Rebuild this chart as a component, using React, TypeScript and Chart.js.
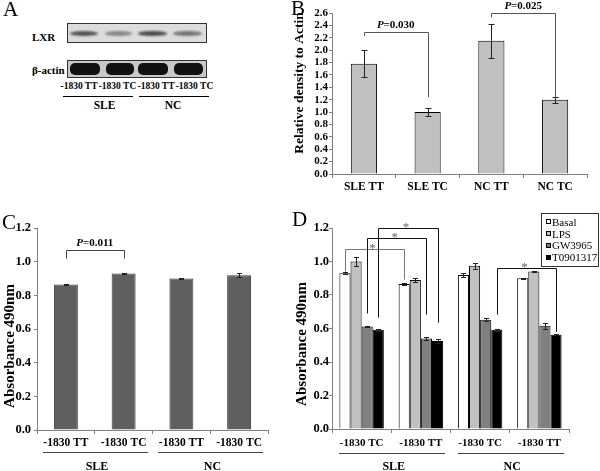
import React, { useEffect, useRef } from 'react';
import { Chart, registerables } from 'chart.js';

Chart.register(...registerables);

const SERIF = "'Liberation Serif', 'Times New Roman', Times, serif";
const AXIS = '#808080';

// ---------------- Panel A (western blot) ----------------
const aLanes = ['-1830 TT', '-1830 TC', '-1830 TT', '-1830 TC'];
const aGroups = ['SLE', 'NC'];
const aLxrDarkness = [0.72, 0.45, 0.78, 0.55];

// ---------------- Panel B ----------------
const bLabels = ['SLE TT', 'SLE TC', 'NC TT', 'NC TC'];
const bValues = [1.78, 1.0, 2.15, 1.2];
const bErrors = [0.22, 0.07, 0.28, 0.05];
const bTicks = [0, 0.2, 0.4, 0.6, 0.8, 1.0, 1.2, 1.4, 1.6, 1.8, 2.0, 2.2, 2.4, 2.6];
const bPValues = ['0.030', '0.025'];

// ---------------- Panel C ----------------
const cLabels = ['-1830 TT', '-1830 TC', '-1830 TT', '-1830 TC'];
const cGroups = ['SLE', 'NC'];
const cValues = [0.865, 0.93, 0.9, 0.92];
const cErrors = [0.005, 0.005, 0.003, 0.012];
const cPValues = ['0.011'];

// ---------------- Panel D ----------------
const dLabels = ['-1830 TC', '-1830 TT', '-1830 TC', '-1830 TT'];
const dGroups = ['SLE', 'NC'];
const dSeries = ['Basal', 'LPS', 'GW3965', 'T0901317'];
const dBasal = [0.93, 0.865, 0.92, 0.9];
const dBasalErr = [0.005, 0.007, 0.01, 0.003];
const dLPS = [1.0, 0.89, 0.975, 0.94];
const dLPSErr = [0.025, 0.012, 0.018, 0.004];
const dGW = [0.612, 0.54, 0.652, 0.617];
const dGWErr = [0.004, 0.01, 0.01, 0.018];
const dT09 = [0.592, 0.525, 0.592, 0.562];
const dT09Err = [0.005, 0.01, 0.006, 0.003];
const dColors = ['#ffffff', '#c0c0c0', '#808080', '#000000'];

const absTicks = [0, 0.2, 0.4, 0.6, 0.8, 1.0, 1.2];

type Bracket = {
  from: [number, number];
  to: [number, number];
  level: number;
  fromEnd: number;
  toEnd: number;
  p?: string;
  star?: boolean;
  color: string;
};

const bBrackets: Bracket[] = [
  { from: [0, 0], to: [0, 1], level: 2.3, fromEnd: 2.23, toEnd: 1.24, p: bPValues[0], color: '#555' },
  { from: [0, 2], to: [0, 3], level: 2.6, fromEnd: 2.53, toEnd: 1.24, p: bPValues[1], color: '#555' },
];
const cBrackets: Bracket[] = [
  { from: [0, 0], to: [0, 1], level: 1.071, fromEnd: 1.018, toEnd: 1.018, p: cPValues[0], color: '#444' },
];
const dBrackets: Bracket[] = [
  { from: [0, 0], to: [0, 1], level: 1.072, fromEnd: 0.94, toEnd: 0.892, star: true, color: '#777' },
  { from: [2, 0], to: [2, 1], level: 1.138, fromEnd: 0.69, toEnd: 0.683, star: true, color: '#111' },
  { from: [3, 0], to: [3, 1], level: 1.198, fromEnd: 0.665, toEnd: 0.635, star: true, color: '#111' },
  { from: [3, 2], to: [3, 3], level: 0.964, fromEnd: 0.683, toEnd: 0.58, star: true, color: '#111' },
];

type AnnotCfg = {
  id: string;
  letter: string;
  letterX: number;
  letterY: number;
  title: string;
  titleX: number;
  titleY: number;
  titleSize: number;
  errors: number[][];
  cap: number;
  brackets: Bracket[];
  pSize?: number;
  groups?: { names: string[]; lineY: number; labelY: number; inL: number; inR: number; size: number };
  legend?: { names: string[]; colors: string[]; x: number; y: number; w: number; h: number };
};

const crisp = (v: number) => Math.round(v) + 0.5;

function annot(cfg: AnnotCfg) {
  return {
    id: cfg.id,
    afterDraw(chart: any) {
      const ctx: CanvasRenderingContext2D = chart.ctx;
      const xs = chart.scales.x;
      const ys = chart.scales.y;
      ctx.save();
      ctx.fillStyle = '#000';
      ctx.textAlign = 'left';
      ctx.textBaseline = 'alphabetic';
      ctx.font = `21px ${SERIF}`;
      ctx.fillText(cfg.letter, cfg.letterX, cfg.letterY);

      // y title
      ctx.save();
      ctx.translate(cfg.titleX, cfg.titleY);
      ctx.rotate(-Math.PI / 2);
      ctx.font = `bold ${cfg.titleSize}px ${SERIF}`;
      ctx.textAlign = 'center';
      ctx.textBaseline = 'middle';
      ctx.fillText(cfg.title, 0, 0);
      ctx.restore();

      // error bars
      ctx.strokeStyle = '#222';
      ctx.lineWidth = 1;
      chart.data.datasets.forEach((ds: any, i: number) => {
        const meta = chart.getDatasetMeta(i);
        meta.data.forEach((el: any, j: number) => {
          const v = ds.data[j];
          const e = cfg.errors[i][j];
          const x = crisp(el.x);
          const t = Math.round(ys.getPixelForValue(v + e)) + 0.5;
          const b = Math.round(ys.getPixelForValue(v - e)) + 0.5;
          ctx.beginPath();
          ctx.moveTo(x, t);
          ctx.lineTo(x, b);
          ctx.moveTo(x - cfg.cap / 2, t);
          ctx.lineTo(x + cfg.cap / 2, t);
          ctx.moveTo(x - cfg.cap / 2, b);
          ctx.lineTo(x + cfg.cap / 2, b);
          ctx.stroke();
        });
      });

      // brackets
      cfg.brackets.forEach((br) => {
        const x1 = chart.getDatasetMeta(br.from[0]).data[br.from[1]].x;
        const x2 = chart.getDatasetMeta(br.to[0]).data[br.to[1]].x;
        const yl = crisp(ys.getPixelForValue(br.level));
        const y1 = ys.getPixelForValue(br.fromEnd);
        const y2 = ys.getPixelForValue(br.toEnd);
        ctx.strokeStyle = br.color;
        ctx.lineWidth = 1;
        ctx.beginPath();
        ctx.moveTo(crisp(x1), y1);
        ctx.lineTo(crisp(x1), yl);
        ctx.lineTo(crisp(x2), yl);
        ctx.lineTo(crisp(x2), y2);
        ctx.stroke();
        const mid = (x1 + x2) / 2;
        if (br.p) {
          const s = cfg.pSize || 11;
          ctx.fillStyle = '#000';
          ctx.textAlign = 'left';
          ctx.textBaseline = 'alphabetic';
          ctx.font = `italic bold ${s}px ${SERIF}`;
          const wP = ctx.measureText('P').width;
          ctx.font = `bold ${s}px ${SERIF}`;
          const rest = '=' + br.p;
          const wR = ctx.measureText(rest).width;
          const x0 = mid - (wP + wR) / 2;
          const base = yl - 4.5;
          ctx.font = `italic bold ${s}px ${SERIF}`;
          ctx.fillText('P', x0, base);
          ctx.font = `bold ${s}px ${SERIF}`;
          ctx.fillText(rest, x0 + wP, base);
        }
        if (br.star) {
          ctx.fillStyle = '#666';
          ctx.textAlign = 'center';
          ctx.textBaseline = 'alphabetic';
          ctx.font = `13px ${SERIF}`;
          ctx.fillText('*', mid - 2, yl + 2);
        }
      });

      // group labels below x axis
      if (cfg.groups) {
        const g = cfg.groups;
        const n = chart.data.labels.length;
        const cw = (xs.right - xs.left) / n;
        g.names.forEach((name, gi) => {
          const l = xs.left + cw * 2 * gi + g.inL;
          const r = xs.left + cw * (2 * gi + 2) - g.inR;
          ctx.fillStyle = '#444';
          ctx.fillRect(Math.round(l), g.lineY, Math.round(r - l), 1);
          ctx.fillStyle = '#000';
          ctx.textAlign = 'center';
          ctx.textBaseline = 'alphabetic';
          ctx.font = `bold ${g.size}px ${SERIF}`;
          ctx.fillText(name, (l + r) / 2 + 2, g.labelY);
        });
      }

      // legend
      if (cfg.legend) {
        const L = cfg.legend;
        ctx.strokeStyle = '#333';
        ctx.lineWidth = 1;
        ctx.strokeRect(L.x + 0.5, L.y + 0.5, L.w, L.h);
        const step = (L.h - 6) / L.names.length;
        L.names.forEach((name, i) => {
          const cy = L.y + 3 + step * (i + 0.5) + 0.5;
          ctx.fillStyle = L.colors[i];
          ctx.fillRect(L.x + 5, Math.round(cy - 3), 5, 5);
          ctx.strokeStyle = '#000';
          ctx.strokeRect(L.x + 5.5, Math.round(cy - 3) + 0.5, 4, 4);
          ctx.fillStyle = '#000';
          ctx.textAlign = 'left';
          ctx.textBaseline = 'middle';
          ctx.font = `11px ${SERIF}`;
          ctx.fillText(name, L.x + 11, cy + 0.5);
        });
      }
      ctx.restore();
    },
  };
}

function yScale(ticks: number[], max: number, width: number, size: number, tickLen: number, pad: number) {
  return {
    type: 'linear',
    min: 0,
    max,
    afterBuildTicks: (s: any) => {
      s.ticks = ticks.map((v) => ({ value: v }));
    },
    afterFit: (s: any) => {
      s.width = width;
    },
    ticks: {
      autoSkip: false,
      padding: pad,
      color: '#000',
      font: { family: SERIF, size, weight: 'bold' },
      callback: (v: any) => Number(v).toFixed(1),
    },
    grid: { display: true, drawOnChartArea: false, drawTicks: true, tickLength: tickLen, color: AXIS },
    border: { display: true, color: AXIS },
  };
}

function xScale(height: number, size: number, pad: number) {
  return {
    type: 'category',
    afterFit: (s: any) => {
      s.height = height;
    },
    ticks: {
      autoSkip: false,
      maxRotation: 0,
      minRotation: 0,
      padding: pad,
      color: '#000',
      font: { family: SERIF, size, weight: 'bold' },
    },
    grid: { display: true, drawOnChartArea: false, drawTicks: true, tickLength: 4, color: AXIS, offset: true },
    border: { display: true, color: AXIS },
  };
}

const baseOptions = (padding: any) => ({
  responsive: false,
  animation: false,
  events: [],
  layout: { padding },
  plugins: { legend: { display: false }, tooltip: { enabled: false }, title: { display: false } },
});

function configB(): any {
  return {
    type: 'bar',
    data: {
      labels: bLabels,
      datasets: [
        {
          data: bValues,
          backgroundColor: '#c0c0c0',
          borderColor: '#000',
          borderWidth: 1,
          categoryPercentage: 1,
          barPercentage: 0.41,
        },
      ],
    },
    options: {
      ...baseOptions({ left: 0, right: 13, top: 13, bottom: 0 }),
      scales: { x: xScale(26, 11.5, 2), y: yScale(bTicks, 2.6, 42, 11, 3, 1) },
    },
    plugins: [
      annot({
        id: 'annotB',
        letter: 'B',
        letterX: 1,
        letterY: 15,
        title: 'Relative density to Actin',
        titleX: 10,
        titleY: 83,
        titleSize: 13.5,
        errors: [bErrors],
        cap: 6,
        brackets: bBrackets,
        pSize: 11,
      }),
    ],
  };
}

function configC(): any {
  return {
    type: 'bar',
    data: {
      labels: cLabels,
      datasets: [
        {
          data: cValues,
          backgroundColor: '#5f5f5f',
          borderColor: '#3a3a3a',
          borderWidth: 1,
          categoryPercentage: 1,
          barPercentage: 0.415,
        },
      ],
    },
    options: {
      ...baseOptions({ left: 0, right: 22, top: 28, bottom: 0 }),
      scales: { x: xScale(41, 11.5, 2), y: yScale(absTicks, 1.2, 37, 12.5, 3, 3) },
    },
    plugins: [
      annot({
        id: 'annotC',
        letter: 'C',
        letterX: 2,
        letterY: 29,
        title: 'Absorbance 490nm',
        titleX: 10,
        titleY: 146,
        titleSize: 15,
        errors: [cErrors],
        cap: 5,
        brackets: cBrackets,
        pSize: 11,
        groups: { names: cGroups, lineY: 252, labelY: 269.5, inL: 5.5, inR: 5, size: 12 },
      }),
    ],
  };
}

function configD(): any {
  const vals = [dBasal, dLPS, dGW, dT09];
  return {
    type: 'bar',
    data: {
      labels: dLabels,
      datasets: dSeries.map((name, i) => ({
        label: name,
        data: vals[i],
        backgroundColor: dColors[i],
        borderColor: '#000',
        borderWidth: 1,
        categoryPercentage: 0.75,
        barPercentage: 1,
      })),
    },
    options: {
      ...baseOptions({ left: 0, right: 31, top: 28, bottom: 0 }),
      scales: { x: xScale(42, 11, 3.4), y: yScale(absTicks, 1.2, 42, 12.5, 3, 0) },
    },
    plugins: [
      annot({
        id: 'annotD',
        letter: 'D',
        letterX: 2,
        letterY: 26,
        title: 'Absorbance 490nm',
        titleX: 12.5,
        titleY: 144,
        titleSize: 15,
        errors: [dBasalErr, dLPSErr, dGWErr, dT09Err],
        cap: 5,
        brackets: dBrackets,
        groups: { names: dGroups, lineY: 253, labelY: 270, inL: 7, inR: 6, size: 12 },
        legend: { names: dSeries, colors: dColors, x: 251, y: 13, w: 57, h: 53 },
      }),
    ],
  };
}

function Txt(props: { x: number; y: number; size: number; bold?: boolean; align?: string; children: any }) {
  const { x, y, size, bold, align, children } = props;
  const transform = align === 'center' ? 'translateX(-50%)' : undefined;
  return (
    <div
      style={{
        position: 'absolute',
        left: x,
        top: y - 0.8375 * size,
        fontSize: size,
        lineHeight: 1,
        fontFamily: SERIF,
        fontWeight: bold ? 'bold' : 'normal',
        whiteSpace: 'nowrap',
        transform,
        color: '#000',
      }}
    >
      {children}
    </div>
  );
}

const lxrBandX = [[70, 98], [105, 132], [138, 167], [173, 202]];
const actinBandX = [[70, 100], [106, 134], [138, 168], [174, 203]];
const laneCenters = [79, 117.5, 156, 194.5];
const groupLines = [[63, 133], [139, 209]];
const groupCenters = [104.5, 173];

function PanelA() {
  return (
    <>
      <Txt x={3} y={17} size={21}>A</Txt>
      <Txt x={32} y={41} size={11} bold>LXR</Txt>
      <Txt x={32} y={74} size={11} bold>β-actin</Txt>
      <div
        style={{
          position: 'absolute',
          left: 67,
          top: 23,
          width: 140,
          height: 20,
          boxSizing: 'border-box',
          border: '1px solid #333',
          background: '#dcdcdc',
          overflow: 'hidden',
        }}
      >
        {lxrBandX.map(([a, b], i) => (
          <div
            key={i}
            style={{
              position: 'absolute',
              left: a - 68,
              top: 7,
              width: b - a,
              height: 5,
              borderRadius: '50%',
              background: `rgba(30,30,30,${aLxrDarkness[i]})`,
              filter: 'blur(0.8px)',
            }}
          />
        ))}
      </div>
      <div
        style={{
          position: 'absolute',
          left: 67,
          top: 60,
          width: 140,
          height: 18,
          boxSizing: 'border-box',
          border: '1px solid #333',
          background: '#c8c8c8',
          overflow: 'hidden',
        }}
      >
        {actinBandX.map(([a, b], i) => (
          <div
            key={i}
            style={{
              position: 'absolute',
              left: a - 68,
              top: 2,
              width: b - a,
              height: 12,
              borderRadius: 5,
              background: '#111',
              filter: 'blur(0.6px)',
            }}
          />
        ))}
      </div>
      {aLanes.map((t, i) => (
        <Txt key={i} x={laneCenters[i]} y={90} size={9.5} bold align="center">
          {t}
        </Txt>
      ))}
      {groupLines.map(([a, b], i) => (
        <div key={i} style={{ position: 'absolute', left: a, top: 96, width: b - a, height: 1, background: '#000' }} />
      ))}
      {aGroups.map((g, i) => (
        <Txt key={i} x={groupCenters[i]} y={110} size={11.5} bold align="center">
          {g}
        </Txt>
      ))}
    </>
  );
}

export default function App() {
  const bRef = useRef<HTMLCanvasElement>(null);
  const cRef = useRef<HTMLCanvasElement>(null);
  const dRef = useRef<HTMLCanvasElement>(null);

  useEffect(() => {
    const charts = [
      new Chart(bRef.current as HTMLCanvasElement, configB()),
      new Chart(cRef.current as HTMLCanvasElement, configC()),
      new Chart(dRef.current as HTMLCanvasElement, configD()),
    ];
    return () => charts.forEach((c) => c.destroy());
  }, []);

  return (
    <div
      style={{
        position: 'absolute',
        left: 0,
        top: 0,
        width: 600,
        height: 471,
        background: '#fff',
        overflow: 'hidden',
        fontFamily: SERIF,
      }}
    >
      <PanelA />
      <canvas ref={bRef} width={310} height={200} style={{ position: 'absolute', left: 290, top: 0 }} />
      <canvas ref={cRef} width={290} height={271} style={{ position: 'absolute', left: 0, top: 200 }} />
      <canvas ref={dRef} width={310} height={271} style={{ position: 'absolute', left: 290, top: 200 }} />
    </div>
  );
}
